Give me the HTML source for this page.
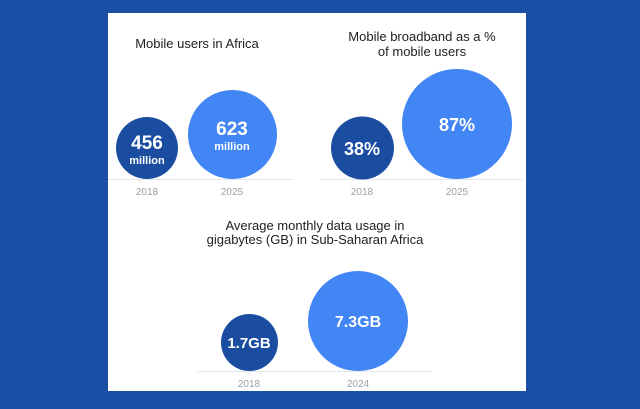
<!DOCTYPE html>
<html><head><style>
html,body{margin:0;padding:0;}
body{width:640px;height:409px;background:#1a4fa5;overflow:hidden;}
svg{display:block;font-family:"Liberation Sans",sans-serif;}
</style></head><body>
<svg width="640" height="409" viewBox="0 0 640 409">
<rect x="0" y="0" width="640" height="409" fill="#1a4fa5"/>
<rect x="108" y="13" width="418" height="378" fill="#ffffff"/>
<g fill="#202124" font-size="13" text-anchor="middle">
<text x="197" y="48">Mobile users in Africa</text>
<text x="422" y="41">Mobile broadband as a %</text>
<text x="422" y="56">of mobile users</text>
<text x="315" y="230">Average monthly data usage in</text>
<text x="315" y="244">gigabytes (GB) in Sub-Saharan Africa</text>
</g>
<g stroke="#e3e6ea" stroke-width="1">
<line x1="108" y1="179.5" x2="292" y2="179.5"/>
<line x1="320" y1="179.5" x2="523" y2="179.5"/>
<line x1="197" y1="371.5" x2="432" y2="371.5"/>
</g>
<circle cx="147" cy="148" r="31" fill="#1a4da0"/>
<circle cx="232.5" cy="134.5" r="44.5" fill="#4285f4"/>
<circle cx="362.5" cy="148" r="31.5" fill="#1a4da0"/>
<circle cx="457" cy="124" r="55" fill="#4285f4"/>
<circle cx="249.5" cy="342.5" r="28.5" fill="#1a4da0"/>
<circle cx="358" cy="321" r="50" fill="#4285f4"/>
<g fill="#fff" text-anchor="middle" font-weight="bold">
<text x="147" y="149" font-size="19">456</text>
<text x="147" y="164" font-size="11">million</text>
<text x="232" y="135" font-size="19">623</text>
<text x="232" y="150" font-size="11">million</text>
<text x="362" y="155" font-size="18">38%</text>
<text x="457" y="131" font-size="18">87%</text>
<text x="249" y="348" font-size="15">1.7GB</text>
<text x="358" y="327" font-size="16">7.3GB</text>
</g>
<g fill="#9aa0a6" font-size="10" text-anchor="middle">
<text x="147" y="195">2018</text>
<text x="232" y="195">2025</text>
<text x="362" y="195">2018</text>
<text x="457" y="195">2025</text>
<text x="249" y="387">2018</text>
<text x="358" y="387">2024</text>
</g>
</svg>
</body></html>
